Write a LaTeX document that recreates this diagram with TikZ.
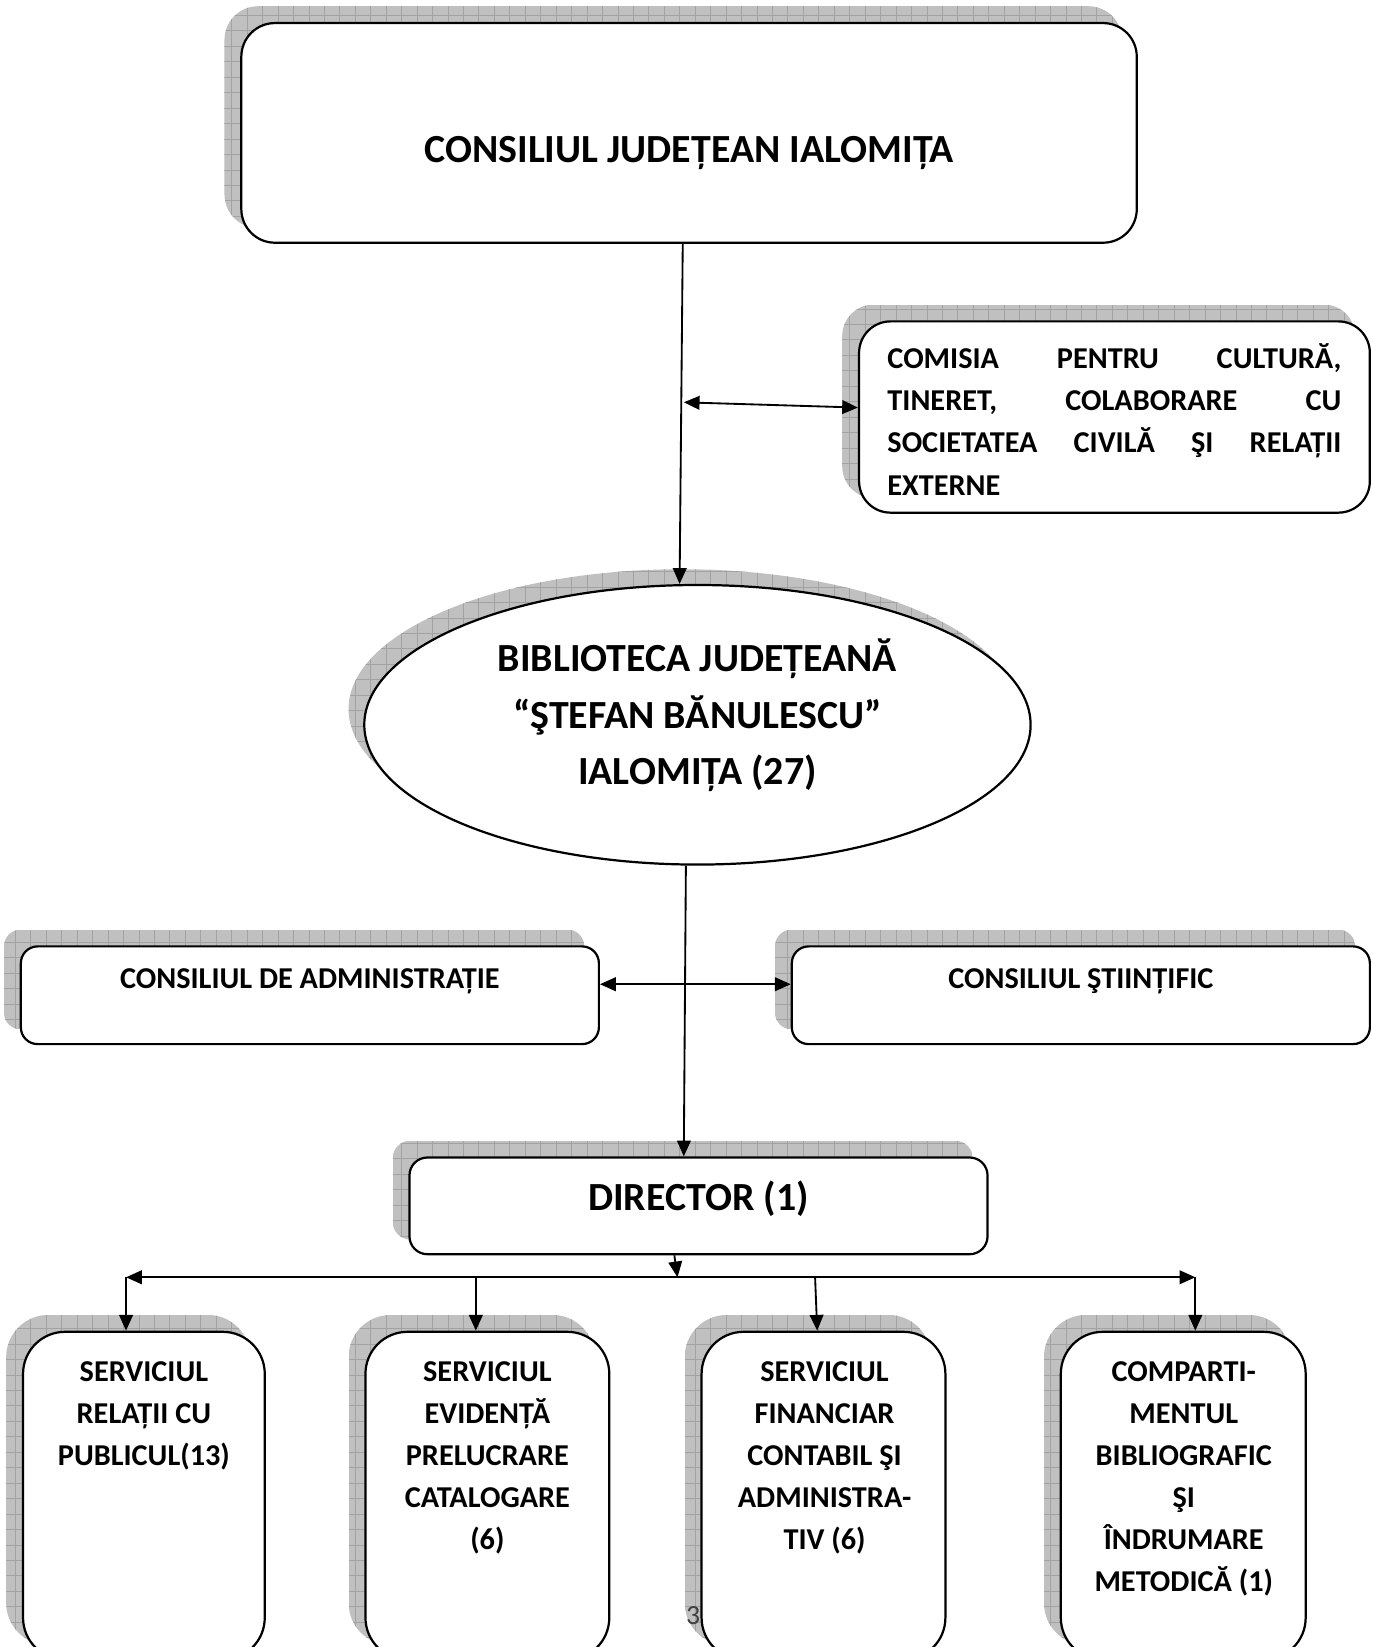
\documentclass[tikz,border=0pt]{standalone}
\usepackage{fontspec}
\setmainfont{Carlito}
\usetikzlibrary{arrows.meta,calc,backgrounds,shapes.geometric}
\definecolor{shfill}{HTML}{C0C0C0}
\definecolor{shgrid}{HTML}{A2A2A2}
\definecolor{pgnum}{HTML}{404040}
\tikzset{
  box/.style={draw=black, line width=0.6pt, fill=white, inner sep=0pt},
  bigtxt/.style={font=\fontsize{10.8}{15.4}\selectfont\bfseries, inner sep=0pt, anchor=base},
  smalltxt/.style={font=\fontsize{8.2}{11.4}\selectfont\bfseries, inner sep=0pt, anchor=base},
  tip/.tip={Triangle[length=1.5mm,width=1.3mm]},
  conn/.style={line width=0.5pt, -tip},
  dconn/.style={line width=0.5pt, tip-tip},
  shadowfill/.style={fill=shfill},
  shadowgrid/.style={draw=shgrid, line width=0.25pt, step=0.147cm},
}
\newcommand\boxshadow[2]{%
  \begin{scope}
    \clip[rounded corners=#2] ($(#1.south west)+(-15,-15)$) rectangle ($(#1.north east)+(-15,-15)$);
    \fill[shadowfill] ($(#1.south west)+(-15,-15)$) rectangle ($(#1.north east)+(-15,-15)$);
    \draw[shadowgrid] ($(#1.south west)+(-15,-15)$) grid ($(#1.north east)+(-15,-15)$);
  \end{scope}}
\begin{document}
\begin{tikzpicture}[x=0.01cm, y=-0.01cm]
\useasboundingbox (0,0) rectangle (1307,1568);
\clip (0,0) rectangle (1307,1568);

% boxes
\node[box, rounded corners=0.32cm, minimum width=8.52cm, minimum height=2.09cm] (cj) at (656,126.5) {};
\node[box, rounded corners=0.30cm, minimum width=4.86cm, minimum height=1.82cm] (com) at (1061,397) {};
\node[box, ellipse, minimum width=6.34cm, minimum height=2.66cm] (bib) at (664,690) {};
\node[box, rounded corners=0.16cm, minimum width=5.50cm, minimum height=0.93cm] (adm) at (295,947.5) {};
\node[box, rounded corners=0.16cm, minimum width=5.50cm, minimum height=0.93cm] (sci) at (1029,947.5) {};
\node[box, rounded corners=0.17cm, minimum width=5.50cm, minimum height=0.92cm] (dir) at (665,1148) {};
\node[box, rounded corners=0.40cm, minimum width=2.30cm, minimum height=3.12cm] (b1) at (137,1424) {};
\node[box, rounded corners=0.40cm, minimum width=2.32cm, minimum height=3.12cm] (b2) at (464,1424) {};
\node[box, rounded corners=0.40cm, minimum width=2.32cm, minimum height=3.12cm] (b3) at (784,1424) {};
\node[box, rounded corners=0.40cm, minimum width=2.33cm, minimum height=3.12cm] (b4) at (1126.5,1424) {};

% shadows
\begin{pgfonlayer}{background}
  \boxshadow{cj}{0.32cm}
  \boxshadow{com}{0.30cm}
  \boxshadow{adm}{0.16cm}
  \boxshadow{sci}{0.16cm}
  \boxshadow{dir}{0.17cm}
  \boxshadow{b1}{0.40cm}
  \boxshadow{b2}{0.40cm}
  \boxshadow{b3}{0.40cm}
  \boxshadow{b4}{0.40cm}
  \begin{scope}
    \clip ($(bib.center)+(-15,-15)$) ellipse [x radius=3.17cm, y radius=1.33cm];
    \fill[shadowfill] ($(bib.center)+(-350,-150)$) rectangle ($(bib.center)+(320,140)$);
    \draw[shadowgrid] ($(bib.center)+(-350,-150)$) grid ($(bib.center)+(320,140)$);
  \end{scope}
\end{pgfonlayer}

% texts
\node[bigtxt] (cjt) at (656,155) {CONSILIUL JUDEȚEAN IALOMIȚA};
\node[smalltxt] (comt) at (1061,351) {\parbox[t]{4.32cm}{%
  \hbox to\linewidth{COMISIA\hfill PENTRU\hfill CULTURĂ,}
  \hbox to\linewidth{TINERET,\hfill COLABORARE\hfill CU}
  \hbox to\linewidth{SOCIETATEA\hfill CIVILĂ\hfill ŞI\hfill RELAȚII}
  \hbox to\linewidth{EXTERNE\hfill}}};
\node[bigtxt] (bibt) at (664,639) {\parbox[t]{6cm}{\centering BIBLIOTECA JUDEȚEANĂ\\“ŞTEFAN BĂNULESCU”\\IALOMIȚA (27)}};
\node[smalltxt] (admt) at (295,941) {CONSILIUL DE ADMINISTRAȚIE};
\node[smalltxt] (scit) at (1029,941) {CONSILIUL ŞTIINȚIFIC};
\node[bigtxt] (dirt) at (665,1152) {DIRECTOR (1)};
\node[smalltxt] (b1t) at (137,1315) {\parbox[t]{2.3cm}{\centering SERVICIUL\\RELAȚII CU\\PUBLICUL(13)}};
\node[smalltxt] (b2t) at (464,1315) {\parbox[t]{2.3cm}{\centering SERVICIUL\\EVIDENȚĂ\\PRELUCRARE\\CATALOGARE\\(6)}};
\node[smalltxt] (b3t) at (785,1315) {\parbox[t]{2.3cm}{\centering SERVICIUL\\FINANCIAR\\CONTABIL ŞI\\ADMINISTRA-\\TIV (6)}};
\node[smalltxt] (b4t) at (1127,1315) {\parbox[t]{2.3cm}{\centering COMPARTI-\\MENTUL\\BIBLIOGRAFIC\\ŞI\\ÎNDRUMARE\\METODICĂ (1)}};
\node[font=\fontsize{7.5}{9}\selectfont, text=pgnum, inner sep=0pt] (pg) at (660,1538) {3};

% connectors
\coordinate (m1) at (651,383);
\coordinate (hb) at (645,1216);
\coordinate (hl) at (120,1216);
\coordinate (hr) at (1138,1216);
\coordinate (t2) at (453,1216);
\coordinate (t3) at (776,1216);
\draw[conn] ($(cj.south)+(-6,0)$) -- ($(bib.north)+(-17,0)$);
\draw[dconn] (m1) -- ($(com.west)+(0,-9)$);
\draw[conn] ($(bib.south)+(-11,0)$) -- ($(dir.north)+(-14,0)$);
\draw[dconn] ($(adm.east)+(0,-10.5)$) -- ($(sci.west)+(0,-10.5)$);
\draw[conn] ($(dir.south)+(-23,0)$) -- (hb);
\draw[dconn] (hl) -- (hr);
\draw[conn] (hl) -- (hl |- b1.north);
\draw[conn] (t2) -- (t2 |- b2.north);
\draw[conn] (t3) -- ($(b3.north)+(-6,0)$);
\draw[conn] (hr) -- (hr |- b4.north);
\end{tikzpicture}
\end{document}
